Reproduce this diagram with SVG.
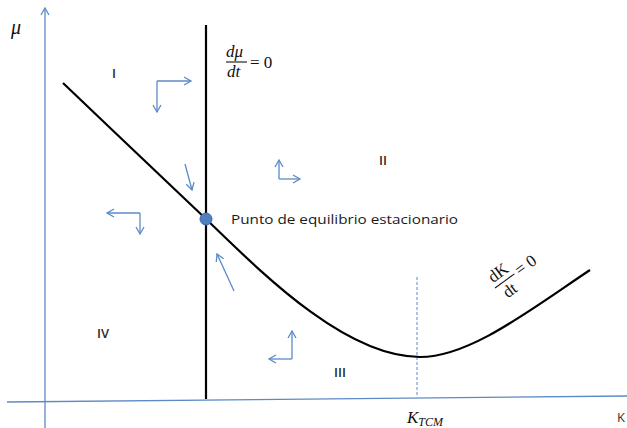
<svg xmlns="http://www.w3.org/2000/svg" width="627" height="428" viewBox="0 0 627 428">
<style>
.axis{stroke:#5b8ac6;stroke-width:1.3;fill:none}
.vec{stroke:#5b8ac6;stroke-width:1.3;fill:none;marker-end:url(#ah)}
.curve{stroke:#000;stroke-width:2.2;fill:none}
.rom{font-family:"Open Sans","Liberation Sans",sans-serif;font-size:13px;font-weight:600;fill:#2a2a2a}
.math{font-family:"Liberation Serif","DejaVu Serif",serif;font-style:italic;fill:#111}
.ser{font-family:"Liberation Serif","DejaVu Serif",serif;fill:#111}
.lbl{font-family:"Open Sans","Liberation Sans",sans-serif;font-size:13.5px;fill:#1a1a1a}
</style>
<defs>
<marker id="ah" markerWidth="10" markerHeight="10" refX="8" refY="5" orient="auto" markerUnits="userSpaceOnUse">
<polyline points="1,1 8,5 1,9" fill="none" stroke="#5b8ac6" stroke-width="1.3"/>
</marker>
<marker id="ahax" markerWidth="12" markerHeight="12" refX="6" refY="2" orient="0" markerUnits="userSpaceOnUse">
<polyline points="2,8 6,1 10,8" fill="none" stroke="#5b8ac6" stroke-width="1.3"/>
</marker>
</defs>
<rect width="627" height="428" fill="#fff"/>
<g id="axes">
<line class="axis" x1="45" y1="428" x2="45" y2="9" marker-end="url(#ahax)"/>
<line class="axis" x1="7" y1="402" x2="627" y2="396"/>
<line x1="417" y1="277" x2="417" y2="397" stroke="#5b8ac6" stroke-width="1" stroke-dasharray="3,2"/>
</g>
<g id="curves">
<line class="curve" x1="206" y1="25" x2="206" y2="399"/>
<path class="curve" d="M63,83 C110,128 165,180 206,219 C262,273 345,357 420,357 C470,357 530,310 590,270"/>
<circle id="equilibrium" cx="206" cy="219" r="6" fill="#4f7fc0" stroke="#3a68a8" stroke-width="1"/>
</g>
<g id="connectors">
<line class="vec" x1="157" y1="81" x2="191" y2="81"/>
<line class="vec" x1="157" y1="81" x2="157" y2="112"/>
<line class="vec" x1="185" y1="164" x2="192" y2="190"/>
<line class="vec" x1="279" y1="179" x2="279" y2="160"/>
<line class="vec" x1="279" y1="179" x2="300" y2="179"/>
<line class="vec" x1="234" y1="291" x2="217" y2="254"/>
<line class="vec" x1="292" y1="359" x2="292" y2="331"/>
<line class="vec" x1="292" y1="359" x2="269" y2="359"/>
<line class="vec" x1="140" y1="213" x2="107" y2="213"/>
<line class="vec" x1="140" y1="213" x2="140" y2="234"/>
</g>
<g id="labels">
<text class="math" x="11" y="34" font-size="20">μ</text>
<text class="math" x="226" y="57" font-size="17">dμ</text>
<line x1="226" y1="62" x2="247" y2="62" stroke="#111" stroke-width="1.1"/>
<text class="math" x="227" y="77" font-size="17">dt</text>
<text class="ser" x="250" y="68" font-size="17">= 0</text>
<g transform="translate(499,290) rotate(-36)">
<text class="ser" x="-1" y="-9" font-size="17">dK</text>
<line x1="-2" y1="-4" x2="22" y2="-4" stroke="#111" stroke-width="1.1"/>
<text class="ser" x="2" y="12" font-size="17">dt</text>
<text class="ser" x="25" y="1" font-size="17">= 0</text>
</g>
<text class="lbl" x="231" y="224" textLength="227" lengthAdjust="spacingAndGlyphs">Punto de equilibrio estacionario</text>
<text class="rom" x="112" y="78">I</text>
<text class="rom" x="379" y="165">II</text>
<text class="rom" x="334" y="377">III</text>
<text class="rom" x="97" y="338">IV</text>
<text class="math" x="407" y="423" font-size="17">K<tspan font-size="12" dy="3">TCM</tspan></text>
<text x="617" y="422" font-family="Open Sans,Liberation Sans,sans-serif" font-size="13" fill="#333">K</text>
</g>
</svg>
